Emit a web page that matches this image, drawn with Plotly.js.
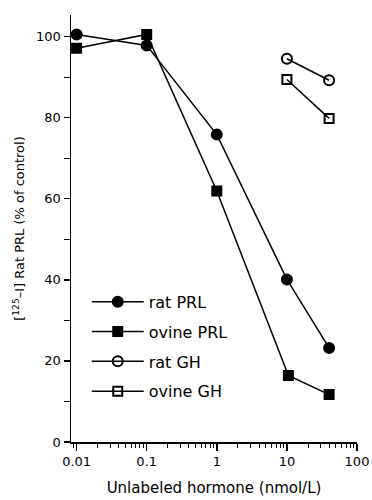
<!DOCTYPE html>
<html><head><meta charset="utf-8">
<script src="https://cdn.plot.ly/plotly-3.0.1.min.js"></script>
<style>html,body{margin:0;padding:0;background:#fff}#c{width:372px;height:500px}</style>
</head><body><div id="c"></div>
<script>
var seriesNames = ["rat PRL", "ovine PRL", "rat GH", "ovine GH"];
var ratPRL_x = [0.01, 0.1, 1, 10, 40];
var ratPRL_y = [100.5, 97.8, 75.8, 40.1, 23.2];
var ovinePRL_x = [0.01, 0.1, 1, 10.5, 40];
var ovinePRL_y = [97.1, 100.5, 61.9, 16.4, 11.7];
var ratGH_x = [10, 40];
var ratGH_y = [94.5, 89.2];
var ovineGH_x = [10, 40];
var ovineGH_y = [89.4, 79.8];
var xTickVals = [0.01, 0.1, 1, 10, 100];
var xTickText = ["0.01", "0.1", "1", "10", "100"];
var yTickVals = [0, 20, 40, 60, 80, 100];

var symbols = ["circle", "square", "circle-open", "square-open"];
var xs = [ratPRL_x, ovinePRL_x, ratGH_x, ovineGH_x];
var ys = [ratPRL_y, ovinePRL_y, ratGH_y, ovineGH_y];
var sizes = [10, 9, 10, 9];
var traces = seriesNames.map(function(n, i){
  return {x: xs[i], y: ys[i], name: n, type: 'scatter', mode: 'lines+markers',
    legendgroup: 'g'+i,
    line: {color: '#000', width: 1.5},
    marker: {symbol: symbols[i], size: sizes[i], color: '#000', line: {color: '#000', width: 2}}};
});
var fam = 'DejaVu Sans, Verdana, sans-serif';
var layout = {
  width: 372, height: 500,
  margin: {l: 71, r: 15, t: 15, b: 58},
  paper_bgcolor: '#fff', plot_bgcolor: '#fff',
  showlegend: true,
  legend: {x: 0.055, y: 0.368, xanchor: 'left', yanchor: 'top', traceorder: 'grouped',
    tracegroupgap: 6, itemwidth: 52, bgcolor: 'rgba(0,0,0,0)',
    font: {family: fam, size: 16, color: '#000'}},
  xaxis: {type: 'log', range: [-2.08, 2], tickvals: xTickVals, ticktext: xTickText,
    ticks: 'outside', ticklen: 7, tickwidth: 1.5, tickcolor: '#000',
    showline: true, linecolor: '#000', linewidth: 1.5, showgrid: false, zeroline: false,
    minor: {ticks: 'outside', ticklen: 4, tickwidth: 1, tickcolor: '#000', dtick: 'D1', showgrid: false},
    tickfont: {family: fam, size: 13, color: '#000'},
    title: {text: 'Unlabeled hormone (nmol/L)', font: {family: fam, size: 15, color: '#000'}, standoff: 14}},
  yaxis: {range: [0, 105.3], tickvals: yTickVals,
    ticks: 'outside', ticklen: 6, tickwidth: 1.5, tickcolor: '#000',
    showline: true, linecolor: '#000', linewidth: 1.5, showgrid: false, zeroline: false,
    minor: {ticks: 'outside', ticklen: 6, tickwidth: 1, tickcolor: '#000', dtick: 10, showgrid: false},
    tickfont: {family: fam, size: 13, color: '#000'},
    title: {text: '[<sup>125</sup>–I] Rat PRL (% of control)', font: {family: fam, size: 13, color: '#000'}, standoff: 8}}
};
Plotly.newPlot('c', traces, layout, {displayModeBar: false, staticPlot: true});
</script></body></html>
